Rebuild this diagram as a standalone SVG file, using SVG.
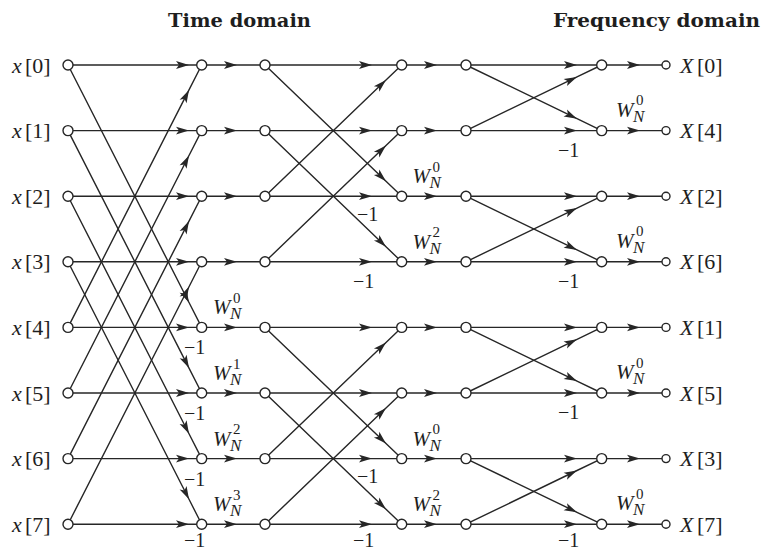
<svg xmlns="http://www.w3.org/2000/svg" width="763" height="550" viewBox="0 0 763 550">
<style>
.e{stroke:#262626;stroke-width:1.4;fill:none;marker-mid:url(#a)}
.n{fill:#fff;stroke:#262626;stroke-width:1.4}
text{font-family:'Liberation Serif',serif;fill:#1e1e1e}
.lb{font-size:22px}
.i{font-style:italic}
.m{font-size:20px}
.h{font-family:'DejaVu Serif',serif;font-weight:bold;font-size:18px}
</style>
<defs>
<marker id="a" viewBox="-14 -5 15 10" refX="0" refY="0" markerWidth="15" markerHeight="10" markerUnits="userSpaceOnUse" orient="auto">
<path d="M0,0 L-13,-3.9 L-10,0 L-13,3.9 Z" fill="#262626"/>
</marker>
</defs>
<rect width="763" height="550" fill="#fff"/>
<g id="titles">
<text class="h" x="168" y="27" textLength="143" lengthAdjust="spacingAndGlyphs">Time domain</text>
<text class="h" x="553" y="27" textLength="207" lengthAdjust="spacingAndGlyphs">Frequency domain</text>
</g>
<g id="connectors">
<path class="e" d="M68,65 L189,65 L201.7,65"/>
<path class="e" d="M68,130.6 L189,130.6 L201.7,130.6"/>
<path class="e" d="M68,196.2 L189,196.2 L201.7,196.2"/>
<path class="e" d="M68,261.8 L189,261.8 L201.7,261.8"/>
<path class="e" d="M68,327.4 L189,327.4 L201.7,327.4"/>
<path class="e" d="M68,393 L189,393 L201.7,393"/>
<path class="e" d="M68,458.6 L189,458.6 L201.7,458.6"/>
<path class="e" d="M68,524.2 L189,524.2 L201.7,524.2"/>
<path class="e" d="M68,327.4 L189,89.9 L201.7,65"/>
<path class="e" d="M68,393 L189,155.5 L201.7,130.6"/>
<path class="e" d="M68,458.6 L189,221.1 L201.7,196.2"/>
<path class="e" d="M68,524.2 L189,286.7 L201.7,261.8"/>
<path class="e" d="M68,65 L189,302.5 L201.7,327.4"/>
<path class="e" d="M68,130.6 L189,368.1 L201.7,393"/>
<path class="e" d="M68,196.2 L189,433.7 L201.7,458.6"/>
<path class="e" d="M68,261.8 L189,499.3 L201.7,524.2"/>
<path class="e" d="M201.7,65 L237,65 L265,65"/>
<path class="e" d="M201.7,130.6 L237,130.6 L265,130.6"/>
<path class="e" d="M201.7,196.2 L237,196.2 L265,196.2"/>
<path class="e" d="M201.7,261.8 L237,261.8 L265,261.8"/>
<path class="e" d="M201.7,327.4 L237,327.4 L265,327.4"/>
<path class="e" d="M201.7,393 L237,393 L265,393"/>
<path class="e" d="M201.7,458.6 L237,458.6 L265,458.6"/>
<path class="e" d="M201.7,524.2 L237,524.2 L265,524.2"/>
<path class="e" d="M265,65 L372,65 L401.7,65"/>
<path class="e" d="M265,130.6 L372,130.6 L401.7,130.6"/>
<path class="e" d="M265,196.2 L372,196.2 L401.7,196.2"/>
<path class="e" d="M265,261.8 L372,261.8 L401.7,261.8"/>
<path class="e" d="M265,327.4 L372,327.4 L401.7,327.4"/>
<path class="e" d="M265,393 L372,393 L401.7,393"/>
<path class="e" d="M265,458.6 L372,458.6 L401.7,458.6"/>
<path class="e" d="M265,524.2 L372,524.2 L401.7,524.2"/>
<path class="e" d="M265,65 L386,181.2 L401.7,196.2"/>
<path class="e" d="M265,196.2 L386,80 L401.7,65"/>
<path class="e" d="M265,130.6 L386,246.8 L401.7,261.8"/>
<path class="e" d="M265,261.8 L386,145.6 L401.7,130.6"/>
<path class="e" d="M265,327.4 L386,443.6 L401.7,458.6"/>
<path class="e" d="M265,458.6 L386,342.4 L401.7,327.4"/>
<path class="e" d="M265,393 L386,509.2 L401.7,524.2"/>
<path class="e" d="M265,524.2 L386,408 L401.7,393"/>
<path class="e" d="M401.7,65 L437,65 L466,65"/>
<path class="e" d="M401.7,130.6 L437,130.6 L466,130.6"/>
<path class="e" d="M401.7,196.2 L437,196.2 L466,196.2"/>
<path class="e" d="M401.7,261.8 L437,261.8 L466,261.8"/>
<path class="e" d="M401.7,327.4 L437,327.4 L466,327.4"/>
<path class="e" d="M401.7,393 L437,393 L466,393"/>
<path class="e" d="M401.7,458.6 L437,458.6 L466,458.6"/>
<path class="e" d="M401.7,524.2 L437,524.2 L466,524.2"/>
<path class="e" d="M466,65 L577,65 L601.7,65"/>
<path class="e" d="M466,130.6 L577,130.6 L601.7,130.6"/>
<path class="e" d="M466,196.2 L577,196.2 L601.7,196.2"/>
<path class="e" d="M466,261.8 L577,261.8 L601.7,261.8"/>
<path class="e" d="M466,327.4 L577,327.4 L601.7,327.4"/>
<path class="e" d="M466,393 L577,393 L601.7,393"/>
<path class="e" d="M466,458.6 L577,458.6 L601.7,458.6"/>
<path class="e" d="M466,524.2 L577,524.2 L601.7,524.2"/>
<path class="e" d="M466,65 L577,118.7 L601.7,130.6"/>
<path class="e" d="M466,130.6 L577,76.9 L601.7,65"/>
<path class="e" d="M466,196.2 L577,249.9 L601.7,261.8"/>
<path class="e" d="M466,261.8 L577,208.1 L601.7,196.2"/>
<path class="e" d="M466,327.4 L577,381.1 L601.7,393"/>
<path class="e" d="M466,393 L577,339.3 L601.7,327.4"/>
<path class="e" d="M466,458.6 L577,512.3 L601.7,524.2"/>
<path class="e" d="M466,524.2 L577,470.5 L601.7,458.6"/>
<path class="e" d="M601.7,65 L640,65 L666,65"/>
<path class="e" d="M601.7,130.6 L640,130.6 L666,130.6"/>
<path class="e" d="M601.7,196.2 L640,196.2 L666,196.2"/>
<path class="e" d="M601.7,261.8 L640,261.8 L666,261.8"/>
<path class="e" d="M601.7,327.4 L640,327.4 L666,327.4"/>
<path class="e" d="M601.7,393 L640,393 L666,393"/>
<path class="e" d="M601.7,458.6 L640,458.6 L666,458.6"/>
<path class="e" d="M601.7,524.2 L640,524.2 L666,524.2"/>
</g>
<g id="branch-labels">
<text x="213" y="314.4"><tspan class="i" font-size="21">W</tspan><tspan class="i" font-size="17" x="230" y="319.4">N</tspan><tspan font-size="15" x="233" y="302.9">0</tspan></text>
<text x="213" y="380"><tspan class="i" font-size="21">W</tspan><tspan class="i" font-size="17" x="230" y="385">N</tspan><tspan font-size="15" x="233" y="368.5">1</tspan></text>
<text x="213" y="445.6"><tspan class="i" font-size="21">W</tspan><tspan class="i" font-size="17" x="230" y="450.6">N</tspan><tspan font-size="15" x="233" y="434.1">2</tspan></text>
<text x="213" y="511.2"><tspan class="i" font-size="21">W</tspan><tspan class="i" font-size="17" x="230" y="516.2">N</tspan><tspan font-size="15" x="233" y="499.7">3</tspan></text>
<text class="m" x="184" y="354.4">−1</text>
<text class="m" x="184" y="420">−1</text>
<text class="m" x="184" y="485.6">−1</text>
<text class="m" x="184" y="547">−1</text>
<text x="412.5" y="183.2"><tspan class="i" font-size="21">W</tspan><tspan class="i" font-size="17" x="429.5" y="188.2">N</tspan><tspan font-size="15" x="432.5" y="171.7">0</tspan></text>
<text x="412.5" y="248.8"><tspan class="i" font-size="21">W</tspan><tspan class="i" font-size="17" x="429.5" y="253.8">N</tspan><tspan font-size="15" x="432.5" y="237.3">2</tspan></text>
<text x="412.5" y="445.6"><tspan class="i" font-size="21">W</tspan><tspan class="i" font-size="17" x="429.5" y="450.6">N</tspan><tspan font-size="15" x="432.5" y="434.1">0</tspan></text>
<text x="412.5" y="511.2"><tspan class="i" font-size="21">W</tspan><tspan class="i" font-size="17" x="429.5" y="516.2">N</tspan><tspan font-size="15" x="432.5" y="499.7">2</tspan></text>
<text class="m" x="357" y="220.7">−1</text>
<text class="m" x="353" y="287.8">−1</text>
<text class="m" x="357" y="483.1">−1</text>
<text class="m" x="353" y="547">−1</text>
<text x="616" y="116.6"><tspan class="i" font-size="21">W</tspan><tspan class="i" font-size="17" x="633" y="121.6">N</tspan><tspan font-size="15" x="636" y="105.1">0</tspan></text>
<text x="616" y="247.8"><tspan class="i" font-size="21">W</tspan><tspan class="i" font-size="17" x="633" y="252.8">N</tspan><tspan font-size="15" x="636" y="236.3">0</tspan></text>
<text x="616" y="379"><tspan class="i" font-size="21">W</tspan><tspan class="i" font-size="17" x="633" y="384">N</tspan><tspan font-size="15" x="636" y="367.5">0</tspan></text>
<text x="616" y="510.2"><tspan class="i" font-size="21">W</tspan><tspan class="i" font-size="17" x="633" y="515.2">N</tspan><tspan font-size="15" x="636" y="498.7">0</tspan></text>
<text class="m" x="558" y="156.6">−1</text>
<text class="m" x="558" y="287.8">−1</text>
<text class="m" x="558" y="419">−1</text>
<text class="m" x="558" y="547">−1</text>
</g>
<g id="in0"><circle class="n" cx="68" cy="65" r="5"/><text class="lb" x="12" y="72.5"><tspan class="i">x</tspan><tspan x="25">[0]</tspan></text></g>
<g id="in1"><circle class="n" cx="68" cy="130.6" r="5"/><text class="lb" x="12" y="138.1"><tspan class="i">x</tspan><tspan x="25">[1]</tspan></text></g>
<g id="in2"><circle class="n" cx="68" cy="196.2" r="5"/><text class="lb" x="12" y="203.7"><tspan class="i">x</tspan><tspan x="25">[2]</tspan></text></g>
<g id="in3"><circle class="n" cx="68" cy="261.8" r="5"/><text class="lb" x="12" y="269.3"><tspan class="i">x</tspan><tspan x="25">[3]</tspan></text></g>
<g id="in4"><circle class="n" cx="68" cy="327.4" r="5"/><text class="lb" x="12" y="334.9"><tspan class="i">x</tspan><tspan x="25">[4]</tspan></text></g>
<g id="in5"><circle class="n" cx="68" cy="393" r="5"/><text class="lb" x="12" y="400.5"><tspan class="i">x</tspan><tspan x="25">[5]</tspan></text></g>
<g id="in6"><circle class="n" cx="68" cy="458.6" r="5"/><text class="lb" x="12" y="466.1"><tspan class="i">x</tspan><tspan x="25">[6]</tspan></text></g>
<g id="in7"><circle class="n" cx="68" cy="524.2" r="5"/><text class="lb" x="12" y="531.7"><tspan class="i">x</tspan><tspan x="25">[7]</tspan></text></g>
<g id="a0"><circle class="n" cx="201.7" cy="65" r="5"/></g>
<g id="a1"><circle class="n" cx="201.7" cy="130.6" r="5"/></g>
<g id="a2"><circle class="n" cx="201.7" cy="196.2" r="5"/></g>
<g id="a3"><circle class="n" cx="201.7" cy="261.8" r="5"/></g>
<g id="a4"><circle class="n" cx="201.7" cy="327.4" r="5"/></g>
<g id="a5"><circle class="n" cx="201.7" cy="393" r="5"/></g>
<g id="a6"><circle class="n" cx="201.7" cy="458.6" r="5"/></g>
<g id="a7"><circle class="n" cx="201.7" cy="524.2" r="5"/></g>
<g id="b0"><circle class="n" cx="265" cy="65" r="5"/></g>
<g id="b1"><circle class="n" cx="265" cy="130.6" r="5"/></g>
<g id="b2"><circle class="n" cx="265" cy="196.2" r="5"/></g>
<g id="b3"><circle class="n" cx="265" cy="261.8" r="5"/></g>
<g id="b4"><circle class="n" cx="265" cy="327.4" r="5"/></g>
<g id="b5"><circle class="n" cx="265" cy="393" r="5"/></g>
<g id="b6"><circle class="n" cx="265" cy="458.6" r="5"/></g>
<g id="b7"><circle class="n" cx="265" cy="524.2" r="5"/></g>
<g id="c0"><circle class="n" cx="401.7" cy="65" r="5"/></g>
<g id="c1"><circle class="n" cx="401.7" cy="130.6" r="5"/></g>
<g id="c2"><circle class="n" cx="401.7" cy="196.2" r="5"/></g>
<g id="c3"><circle class="n" cx="401.7" cy="261.8" r="5"/></g>
<g id="c4"><circle class="n" cx="401.7" cy="327.4" r="5"/></g>
<g id="c5"><circle class="n" cx="401.7" cy="393" r="5"/></g>
<g id="c6"><circle class="n" cx="401.7" cy="458.6" r="5"/></g>
<g id="c7"><circle class="n" cx="401.7" cy="524.2" r="5"/></g>
<g id="d0"><circle class="n" cx="466" cy="65" r="5"/></g>
<g id="d1"><circle class="n" cx="466" cy="130.6" r="5"/></g>
<g id="d2"><circle class="n" cx="466" cy="196.2" r="5"/></g>
<g id="d3"><circle class="n" cx="466" cy="261.8" r="5"/></g>
<g id="d4"><circle class="n" cx="466" cy="327.4" r="5"/></g>
<g id="d5"><circle class="n" cx="466" cy="393" r="5"/></g>
<g id="d6"><circle class="n" cx="466" cy="458.6" r="5"/></g>
<g id="d7"><circle class="n" cx="466" cy="524.2" r="5"/></g>
<g id="e0"><circle class="n" cx="601.7" cy="65" r="5"/></g>
<g id="e1"><circle class="n" cx="601.7" cy="130.6" r="5"/></g>
<g id="e2"><circle class="n" cx="601.7" cy="196.2" r="5"/></g>
<g id="e3"><circle class="n" cx="601.7" cy="261.8" r="5"/></g>
<g id="e4"><circle class="n" cx="601.7" cy="327.4" r="5"/></g>
<g id="e5"><circle class="n" cx="601.7" cy="393" r="5"/></g>
<g id="e6"><circle class="n" cx="601.7" cy="458.6" r="5"/></g>
<g id="e7"><circle class="n" cx="601.7" cy="524.2" r="5"/></g>
<g id="out0"><circle class="n" cx="666" cy="65" r="4"/><text class="lb" x="680" y="72.5"><tspan class="i">X</tspan><tspan x="697">[0]</tspan></text></g>
<g id="out4"><circle class="n" cx="666" cy="130.6" r="4"/><text class="lb" x="680" y="138.1"><tspan class="i">X</tspan><tspan x="697">[4]</tspan></text></g>
<g id="out2"><circle class="n" cx="666" cy="196.2" r="4"/><text class="lb" x="680" y="203.7"><tspan class="i">X</tspan><tspan x="697">[2]</tspan></text></g>
<g id="out6"><circle class="n" cx="666" cy="261.8" r="4"/><text class="lb" x="680" y="269.3"><tspan class="i">X</tspan><tspan x="697">[6]</tspan></text></g>
<g id="out1"><circle class="n" cx="666" cy="327.4" r="4"/><text class="lb" x="680" y="334.9"><tspan class="i">X</tspan><tspan x="697">[1]</tspan></text></g>
<g id="out5"><circle class="n" cx="666" cy="393" r="4"/><text class="lb" x="680" y="400.5"><tspan class="i">X</tspan><tspan x="697">[5]</tspan></text></g>
<g id="out3"><circle class="n" cx="666" cy="458.6" r="4"/><text class="lb" x="680" y="466.1"><tspan class="i">X</tspan><tspan x="697">[3]</tspan></text></g>
<g id="out7"><circle class="n" cx="666" cy="524.2" r="4"/><text class="lb" x="680" y="531.7"><tspan class="i">X</tspan><tspan x="697">[7]</tspan></text></g>
</svg>
